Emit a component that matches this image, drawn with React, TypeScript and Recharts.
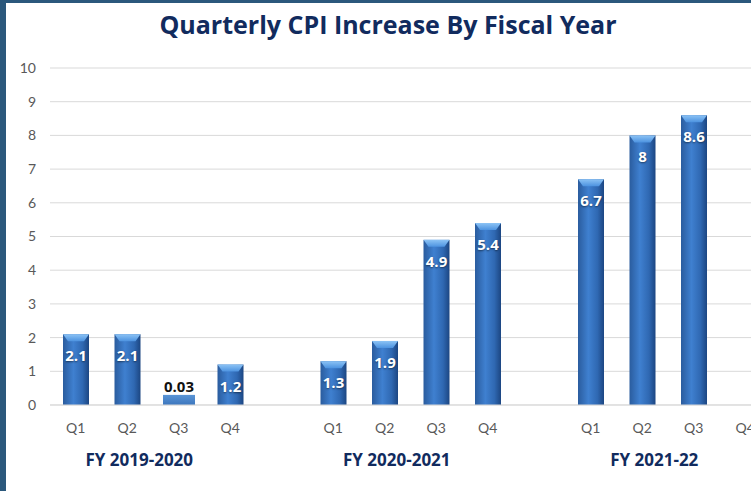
import React from "react";
import { BarChart, Bar, XAxis, YAxis, CartesianGrid, LabelList } from "recharts";

// 14 slots: four quarters per fiscal year, with an empty slot between years
const quarters = ["Q1", "Q2", "Q3", "Q4", "", "Q1", "Q2", "Q3", "Q4", "", "Q1", "Q2", "Q3", "Q4"];
const cpiIncrease = [2.1, 2.1, 0.3, 1.2, null, 1.3, 1.9, 4.9, 5.4, null, 6.7, 8, 8.6, null];
const valueLabels = ["2.1", "2.1", "0.03", "1.2", "", "1.3", "1.9", "4.9", "5.4", "", "6.7", "8", "8.6", ""];
const fiscalYears = ["", "FY 2019-2020", "", "", "", "", "FY 2020-2021", "", "", "", "", "FY 2021-22", "", ""];
const yTicks = [0, 1, 2, 3, 4, 5, 6, 7, 8, 9, 10];

const data = quarters.map((q, i) => ({
  slot: `${i}`,
  quarter: q,
  fy: fiscalYears[i],
  value: cpiIncrease[i],
  label: valueLabels[i],
}));

const NAVY = "#112b5e";
const FRAME = "#2b587c";
const FONT = "Lato, 'Open Sans', sans-serif";
const BOLD_FONT = "'Open Sans', Lato, sans-serif";

function BevelBar(props: any) {
  const { x, y, width, height, value } = props;
  if (value == null || height <= 0) return null;
  if (value < 0.5) {
    // the tiny bar is drawn flat in the original
    return <rect x={x - 3} y={y} width={width + 6} height={height} fill="url(#flatBar)" />;
  }
  const cap = 7;
  return (
    <g>
      <rect x={x} y={y} width={width} height={height} fill="url(#barBody)" />
      <polygon
        points={`${x},${y} ${x + width},${y} ${x + width - 5},${y + cap} ${x + 5},${y + cap}`}
        fill="url(#barCap)"
      />
    </g>
  );
}

function ValueLabel(props: any) {
  const { x, y, width, height, value } = props;
  if (!value) return null;
  const small = height < 16;
  return (
    <text
      x={x + width / 2}
      y={small ? y - 3 : y + 27}
      textAnchor="middle"
      fontFamily={BOLD_FONT}
      fontWeight={700}
      fontSize={15}
      fill={small ? "#111" : "#fff"}
      style={small ? undefined : { textShadow: "0 1px 2px rgba(0,0,0,0.5)" }}
    >
      {value}
    </text>
  );
}

function QuarterTick(props: any) {
  const { x, y, payload } = props;
  const q = data[payload.index]?.quarter;
  return (
    <text x={x} y={y} dy="0.71em" textAnchor="middle" fontFamily={FONT} fontSize={14} fill="#595959">
      {q}
    </text>
  );
}

function FiscalTick(props: any) {
  const { x, y, payload } = props;
  const fy = data[payload.index]?.fy;
  if (!fy) return null;
  return (
    <text x={x + 12} y={y} dy="0.71em" textAnchor="middle" fontFamily={BOLD_FONT} fontWeight={700} fontSize={17} fill={NAVY}>
      {fy}
    </text>
  );
}

export default function App() {
  return (
    <div
      style={{
        position: "fixed",
        top: 0,
        left: 0,
        width: 751,
        height: 491,
        overflow: "hidden",
        background: "#fff",
      }}
    >
      <div
        style={{
          position: "absolute",
          top: 7,
          left: 0,
          width: 776,
          textAlign: "center",
          fontFamily: BOLD_FONT,
          fontWeight: 700,
          fontSize: 25,
          color: NAVY,
        }}
      >
        Quarterly CPI Increase By Fiscal Year
      </div>
      <div style={{ position: "absolute", top: 0, left: 0 }}>
        <BarChart width={776} height={491} data={data} margin={{ top: 68, right: 5, left: 8, bottom: 16 }} barSize={26}>
          <defs>
            <linearGradient id="barBody" x1="0" y1="0" x2="1" y2="0">
              <stop offset="0%" stopColor="#2a5c9e" />
              <stop offset="40%" stopColor="#3f80d0" />
              <stop offset="75%" stopColor="#2f68b2" />
              <stop offset="100%" stopColor="#1c4682" />
            </linearGradient>
            <linearGradient id="barCap" x1="0" y1="0" x2="0" y2="1">
              <stop offset="0%" stopColor="#8cc3f5" />
              <stop offset="100%" stopColor="#4d93e0" />
            </linearGradient>
            <linearGradient id="flatBar" x1="0" y1="0" x2="0" y2="1">
              <stop offset="0%" stopColor="#5a95d6" />
              <stop offset="100%" stopColor="#3c76bd" />
            </linearGradient>
          </defs>
          <CartesianGrid vertical={false} stroke="#d9d9d9" />
          <XAxis
            dataKey="slot"
            xAxisId={0}
            interval={0}
            tickLine={false}
            axisLine={{ stroke: "#d9d9d9" }}
            tickSize={0}
            tickMargin={18}
            height={30}
            tick={<QuarterTick />}
          />
          <XAxis
            dataKey="slot"
            xAxisId="fy"
            interval={0}
            tickLine={false}
            axisLine={false}
            tickSize={0}
            tickMargin={19}
            height={40}
            tick={<FiscalTick />}
          />
          <YAxis
            domain={[0, 10]}
            ticks={yTicks}
            interval={0}
            width={42}
            tickLine={false}
            axisLine={false}
            tickSize={0}
            tickMargin={14}
            tick={{ fontFamily: FONT, fontSize: 14, fill: "#595959" }}
          />
          <Bar dataKey="value" xAxisId={0} shape={<BevelBar />} isAnimationActive={false}>
            <LabelList dataKey="label" content={<ValueLabel />} />
          </Bar>
        </BarChart>
      </div>
      {/* dark frame on the left and top edges */}
      <div style={{ position: "absolute", zIndex: 10, top: 0, left: 0, width: 6, height: 491, background: FRAME }} />
      <div style={{ position: "absolute", zIndex: 10, top: 0, left: 0, width: 751, height: 3, background: FRAME }} />
    </div>
  );
}
